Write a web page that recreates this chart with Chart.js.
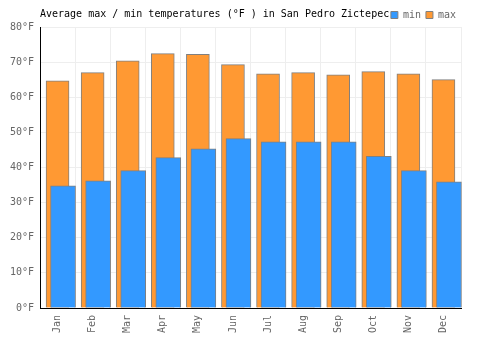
<!DOCTYPE html>
<html>
<head>
<meta charset="utf-8">
<script src="https://cdn.jsdelivr.net/npm/chart.js@4"></script>
<style>
html,body{margin:0;padding:0;background:#fff;}
#wrap{width:500px;height:350px;}
</style>
</head>
<body>
<div id="wrap"><canvas id="c" width="500" height="350"></canvas></div>
<script>
const TITLE = 'Average max / min temperatures (°F ) in San Pedro Zictepec';
const months = ['Jan','Feb','Mar','Apr','May','Jun','Jul','Aug','Sep','Oct','Nov','Dec'];
const minTemps = [34.8, 36.2, 39.1, 42.8, 45.3, 48.2, 47.3, 47.3, 47.3, 43.2, 39.1, 35.9];
const maxTemps = [64.7, 67.0, 70.4, 72.4, 72.2, 69.3, 66.7, 67.0, 66.4, 67.3, 66.7, 65.0];
const yTicks = [0, 10, 20, 30, 40, 50, 60, 70, 80];

const FONT = 'DejaVu Sans Mono';
const MIN_SHIFT = 5.5;

const shiftPlugin = {
  id: 'shiftMin',
  beforeDatasetDraw(chart, args) {
    if (args.index === 0) { chart.ctx.save(); chart.ctx.translate(MIN_SHIFT, 0); }
  },
  afterDatasetDraw(chart, args) {
    if (args.index === 0) { chart.ctx.restore(); }
  }
};

const titlePlugin = {
  id: 'inlineTitle',
  afterDraw(chart) {
    const ctx = chart.ctx;
    ctx.save();
    ctx.font = '10px "' + FONT + '"';
    ctx.fillStyle = '#000';
    ctx.textBaseline = 'middle';
    ctx.textAlign = 'left';
    ctx.fillText(TITLE, 40, 14.5);
    ctx.restore();
  }
};

new Chart(document.getElementById('c'), {
  type: 'bar',
  data: {
    labels: months,
    datasets: [
      {
        label: 'min',
        data: minTemps,
        backgroundColor: 'rgb(51,153,255)',
        borderColor: '#808080',
        borderWidth: 1,
        barThickness: 25,
        grouped: false
      },
      {
        label: 'max',
        data: maxTemps,
        backgroundColor: 'rgb(255,153,51)',
        borderColor: '#808080',
        borderWidth: 1,
        barThickness: 23,
        grouped: false
      }
    ]
  },
  plugins: [shiftPlugin, titlePlugin],
  options: {
    responsive: false,
    animation: false,
    layout: { padding: { left: 0, right: 39, top: 5, bottom: 0 } },
    plugins: {
      title: { display: false },
      tooltip: { enabled: false },
      legend: {
        display: true,
        position: 'top',
        align: 'end',
        maxHeight: 22,
        labels: {
          boxWidth: 7,
          boxHeight: 7,
          padding: 5,
          color: '#666',
          font: { family: FONT, size: 10 }
        }
      }
    },
    scales: {
      x: {
        grid: { color: '#eeeeee', drawTicks: false, offset: true },
        border: { color: '#000', width: 1 },
        ticks: {
          color: '#666',
          font: { family: FONT, size: 10 },
          minRotation: 90,
          maxRotation: 90,
          padding: 7
        },
        afterFit(scale) { scale.height = 42; }
      },
      y: {
        min: 0,
        max: 80,
        afterBuildTicks(scale) { scale.ticks = yTicks.map(v => ({ value: v })); },
        grid: { color: '#eeeeee', drawTicks: false },
        border: { color: '#000', width: 1 },
        ticks: {
          color: '#666',
          font: { family: FONT, size: 10 },
          padding: 6,
          callback: v => v + '°F'
        },
        afterFit(scale) { scale.width = 40; }
      }
    }
  }
});
</script>
</body>
</html>
